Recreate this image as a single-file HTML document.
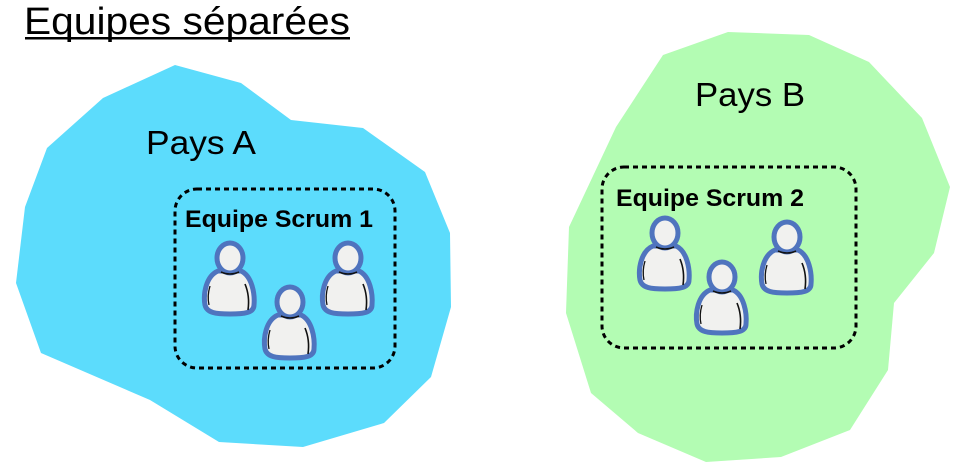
<!DOCTYPE html>
<html><head><meta charset="utf-8"><style>
html,body{margin:0;padding:0;background:#fff;}
svg{display:block;}
text{font-family:"Liberation Sans",sans-serif;}
</style></head><body>
<svg width="971" height="472" viewBox="0 0 971 472" xmlns="http://www.w3.org/2000/svg">
<defs>
<g id="p">
<path d="M-12,13 C-24,18 -27,36 -25,47 C-23,55 -14,56 0,56 C14,56 24,55 24,47 C25,36 22,18 11,13 Z" fill="#f1f1ef" stroke="#4f74be" stroke-width="5" stroke-linejoin="round"/>
<ellipse cx="0" cy="0" rx="13" ry="15" fill="#f1f1ef" stroke="#4f74be" stroke-width="5"/>
<path d="M-9,14 Q0,18 9,14" fill="none" stroke="#111" stroke-width="1.6"/>
<path d="M15,26 Q20,38 18,52" fill="none" stroke="#111" stroke-width="1.6"/>
<path d="M-20,28 Q-23,38 -21,47" fill="none" stroke="#111" stroke-width="1.3"/>
</g>
</defs>
<text x="24" y="34" font-size="38" textLength="326" lengthAdjust="spacingAndGlyphs" fill="#000">Equipes séparées</text>
<rect x="25" y="37" width="325" height="2.5" fill="#000"/>
<polygon fill="#5cdcfc" points="175,65 241,83 291,120 363,128 425,172 450,233 451,307 431,377 384,423 303,447 219,442 150,400 41,353 16,283 25,207 47,148 103,98"/>
<polygon fill="#b3fcb3" points="663,55 728,32 809,35 869,62 922,118 950,187 934,253 894,303 888,370 850,430 781,457 706,462 638,433 591,393 566,313 569,227 616,127"/>
<text x="146" y="154" font-size="33" textLength="110" lengthAdjust="spacingAndGlyphs" fill="#000">Pays A</text>
<text x="695" y="106" font-size="33" textLength="110" lengthAdjust="spacingAndGlyphs" fill="#000">Pays B</text>
<rect x="175" y="189" width="220" height="179" rx="22" fill="none" stroke="#000" stroke-width="3" stroke-dasharray="5,4"/>
<rect x="602" y="167" width="254" height="181" rx="22" fill="none" stroke="#000" stroke-width="3" stroke-dasharray="5,4"/>
<text x="185" y="227" font-size="24" font-weight="bold" textLength="188" lengthAdjust="spacingAndGlyphs" fill="#000">Equipe Scrum 1</text>
<text x="616" y="206" font-size="24" font-weight="bold" textLength="188" lengthAdjust="spacingAndGlyphs" fill="#000">Equipe Scrum 2</text>
<use href="#p" x="230" y="258"/>
<use href="#p" x="290" y="302"/>
<use href="#p" x="348" y="258"/>
<use href="#p" x="665" y="233"/>
<use href="#p" x="722" y="277"/>
<use href="#p" x="787" y="237"/>
</svg>
</body></html>
